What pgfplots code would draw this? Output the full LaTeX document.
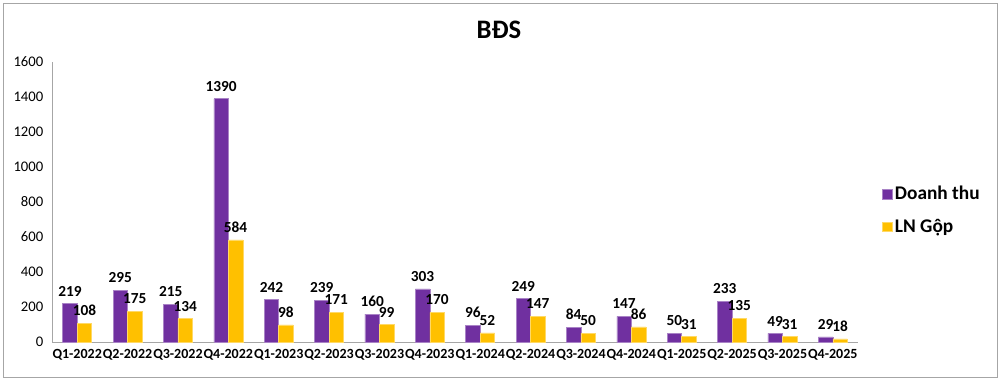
\documentclass[border=0pt]{standalone}
\usepackage{pgfplots}
\pgfplotsset{compat=1.18}
\usepackage{fontspec}
\setmainfont{Carlito}
\definecolor{dt}{HTML}{7030A0}
\definecolor{ln}{HTML}{FFC000}
\definecolor{axgray}{HTML}{A6A6A6}
\begin{document}
\begin{tikzpicture}[x=0.75pt,y=0.75pt]
\useasboundingbox (0,0) rectangle (1001,380);
\draw[axgray, line width=0.75pt] (3,3) rectangle (997,377);
\node[font=\bfseries\fontsize{20}{24}\selectfont] at (499,350) {BĐS};
\begin{axis}[
  at={(52*0.75pt,38*0.75pt)}, anchor=south west,
  scale only axis, width=604.5pt, height=210pt,
  ymin=0, ymax=1600, ytick={0,200,...,1600},
  xmin=-0.5, xmax=15.5,
  xtick={0,...,15},
  xticklabels={Q1-2022,Q2-2022,Q3-2022,Q4-2022,Q1-2023,Q2-2023,Q3-2023,Q4-2023,Q1-2024,Q2-2024,Q3-2024,Q4-2024,Q1-2025,Q2-2025,Q3-2025,Q4-2025},
  xticklabel style={font=\bfseries\fontsize{10.5}{12}\selectfont, yshift=-2pt},
  yticklabel style={font=\fontsize{11}{13}\selectfont, xshift=-3pt},
  /pgf/number format/assume math mode=true,
  /pgf/number format/1000 sep={},
  axis lines=left, axis line style={axgray, -},
  major tick length=0pt,
  ybar=0pt, bar width=10.9pt,
  nodes near coords,
  every node near coord/.append style={font=\bfseries\fontsize{11.5}{13}\selectfont, black, yshift=2pt},
  legend style={at={(1.025,0.47)}, anchor=west, draw=none, font=\bfseries\fontsize{14.5}{17}\selectfont, row sep=9pt, cells={anchor=west}},
  legend image code/.code={\fill[#1] (0pt,-3.5pt) rectangle (7pt,3.5pt);},
  clip=false,
]
\addplot[fill=dt, draw=dt!60!white] coordinates {(0,219) (1,295) (2,215) (3,1390) (4,242) (5,239) (6,160) (7,303) (8,96) (9,249) (10,84) (11,147) (12,50) (13,233) (14,49) (15,29)};
\addplot[fill=ln, draw=ln!60!white] coordinates {(0,108) (1,175) (2,134) (3,584) (4,98) (5,171) (6,99) (7,170) (8,52) (9,147) (10,50) (11,86) (12,31) (13,135) (14,31) (15,18)};
\legend{Doanh thu, LN Gộp}
\end{axis}
\end{tikzpicture}
\end{document}
